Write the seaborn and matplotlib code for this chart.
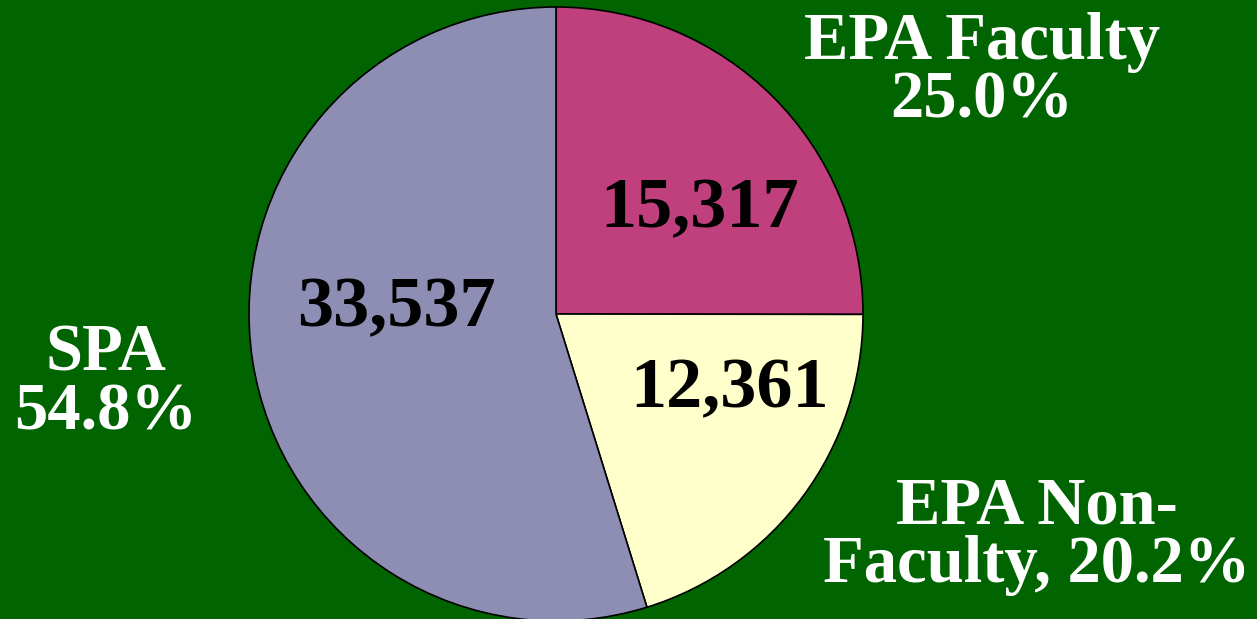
import matplotlib
matplotlib.use("Agg")
import matplotlib.pyplot as plt
import seaborn as sns

# data
categories = ["EPA Faculty", "EPA Non-Faculty", "SPA"]
counts = [15317, 12361, 33537]
value_labels = ["15,317", "12,361", "33,537"]
outer_labels = ["EPA Faculty\n25.0%", "EPA Non-\nFaculty, 20.2%", "SPA\n54.8%"]
colors = ["#BF407D", "#FFFFCC", "#8E8EB4"]

sns.set_style("white")
plt.rcParams["font.family"] = ["Liberation Serif", "DejaVu Serif"]

W, H = 1257, 619
cx, cy, r = 556, 314, 307

fig = plt.figure(figsize=(W / 100, H / 100), dpi=100, facecolor="#006400")
ax = fig.add_axes([0, 0, 1, 1])
ax.set_facecolor("#006400")

ax.pie(counts, colors=colors, startangle=90, counterclock=False, radius=1,
       wedgeprops=dict(edgecolor="black", linewidth=1.2))

ax.set_xlim(-cx / r, (W - cx) / r)
ax.set_ylim((cy - H) / r, cy / r)
ax.set_aspect("auto")
ax.axis("off")


def px(x, y):
    return (x - cx) / r, (cy - y) / r


# values inside the slices (pixel positions of baselines)
value_pos = [(700, 227), (730, 407), (396, 326)]
for lab, (x, y) in zip(value_labels, value_pos):
    ax.text(*px(x, y), lab, ha="center", va="baseline", fontsize=52,
            fontweight="bold", color="black")

# category labels outside (baseline of the last line)
outer_pos = [(982, 118), (1037, 582), (106, 429)]
for lab, (x, y) in zip(outer_labels, outer_pos):
    ax.text(*px(x, y), lab, ha="center", va="baseline", fontsize=48,
            fontweight="bold", color="white", linespacing=0.95)

fig.savefig("out.png", dpi=100, facecolor=fig.get_facecolor())
